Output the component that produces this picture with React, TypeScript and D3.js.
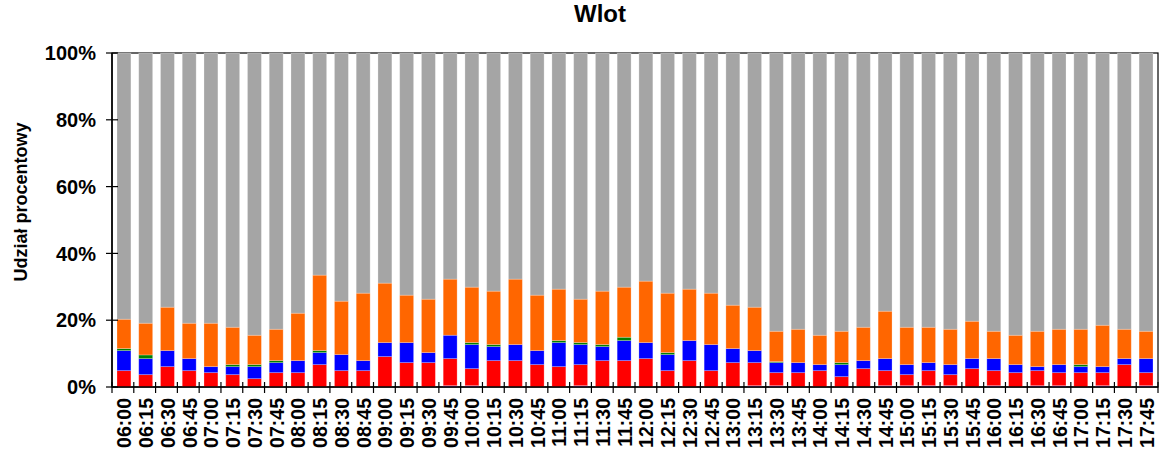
import React from 'react';
import * as d3 from 'd3';

const times = [
    '06:00', '06:15', '06:30', '06:45', '07:00', '07:15', '07:30', '07:45',
    '08:00', '08:15', '08:30', '08:45', '09:00', '09:15', '09:30', '09:45',
    '10:00', '10:15', '10:30', '10:45', '11:00', '11:15', '11:30', '11:45',
    '12:00', '12:15', '12:30', '12:45', '13:00', '13:15', '13:30', '13:45',
    '14:00', '14:15', '14:30', '14:45', '15:00', '15:15', '15:30', '15:45',
    '16:00', '16:15', '16:30', '16:45', '17:00', '17:15', '17:30', '17:45',
];

// shares in % per 15-minute interval, bottom to top
const purple = [
    0, 0, 0, 0, 0, 0, 0, 0, 0, 0, 0, 0, 0, 0, 0, 0.4,
    0.4, 0, 0, 0, 0, 0.4, 0, 0, 0, 0, 0, 0, 0, 0.4, 0.4, 0,
    0, 0, 0, 0.4, 0.4, 0.4, 0.4, 0, 0.4, 0, 0.4, 0.4, 0, 0.4, 0, 0.4,
];
const red = [
    4.9, 3.7, 6.1, 4.9, 4.3, 3.7, 2.5, 4.3, 4.3, 6.7, 4.9, 4.9, 9.1, 7.3, 7.3, 8.1,
    5.1, 7.9, 7.9, 6.7, 6.1, 6.3, 7.9, 7.9, 8.5, 4.9, 7.9, 4.9, 7.3, 6.9, 3.9, 4.3,
    4.9, 3.1, 5.5, 4.5, 3.3, 4.5, 3.3, 5.5, 4.5, 4.3, 4.5, 3.9, 4.3, 3.9, 6.7, 3.9,
];
const blue = [
    6.0, 4.8, 4.8, 3.6, 1.8, 2.4, 3.6, 3.0, 3.6, 3.6, 4.8, 3.0, 4.2, 6.0, 3.0, 7.0,
    7.2, 4.2, 4.8, 4.2, 7.2, 6.0, 4.2, 6.0, 4.8, 4.8, 6.0, 7.8, 4.2, 3.6, 3.0, 3.0,
    1.8, 3.6, 2.4, 3.6, 3.0, 2.4, 3.0, 3.0, 3.6, 2.4, 1.2, 2.4, 1.8, 1.8, 1.8, 4.2,
];
const green = [
    0.6, 1.1, 0, 0, 0, 0.6, 0.6, 0.6, 0, 0.6, 0, 0, 0, 0, 0, 0,
    0.6, 0.6, 0, 0, 0.6, 0.6, 0.6, 1.0, 0, 0.6, 0, 0, 0, 0, 0.3, 0,
    0, 0.6, 0, 0, 0, 0, 0, 0, 0, 0, 0, 0, 0.6, 0, 0, 0,
];
const orange = [
    8.8, 9.5, 13.0, 10.6, 13.0, 11.2, 8.8, 9.4, 14.2, 22.6, 16.0, 20.2, 17.8, 14.2, 16.0, 16.8,
    16.6, 16.0, 19.6, 16.6, 15.4, 13.0, 16.0, 15.0, 18.4, 17.8, 15.4, 15.4, 13.0, 13.0, 9.1, 10.0,
    8.8, 9.4, 10.0, 14.2, 11.2, 10.6, 10.6, 11.2, 8.2, 8.8, 10.6, 10.6, 10.6, 12.4, 8.8, 8.2,
];
const gray = [
    79.7, 80.9, 76.1, 80.9, 80.9, 82.1, 84.5, 82.7, 77.9, 66.5, 74.3, 71.9, 68.9, 72.5, 73.7, 67.7,
    70.1, 71.3, 67.7, 72.5, 70.7, 73.7, 71.3, 70.1, 68.3, 71.9, 70.7, 71.9, 75.5, 76.1, 83.3, 82.7,
    84.5, 83.3, 82.1, 77.3, 82.1, 82.1, 82.7, 80.3, 83.3, 84.5, 83.3, 82.7, 82.7, 81.5, 82.7, 83.3,
];
const yTicks = [0, 0.2, 0.4, 0.6, 0.8, 1];

const seriesKeys = ['purple', 'red', 'blue', 'green', 'orange', 'gray'];
const colors: Record<string, string> = {
    purple: '#9933cc',
    red: '#ff0000',
    blue: '#0000ff',
    green: '#008000',
    orange: '#ff6600',
    gray: '#a5a5a5',
};

const W = 1164;
const H = 457;
const margin = { top: 53, right: 6, bottom: 70, left: 112 };
const font = '"Liberation Sans", Arial, sans-serif';

const App: React.FC = () => {
    const rows = times.map((t, i) => ({
        time: t,
        purple: purple[i],
        red: red[i],
        blue: blue[i],
        green: green[i],
        orange: orange[i],
        gray: gray[i],
    }));

    const stacked = d3.stack<any>()
        .keys(seriesKeys)
        .offset(d3.stackOffsetExpand)(rows);

    const x = d3.scaleBand<string>()
        .domain(times)
        .range([margin.left, W - margin.right])
        .paddingInner(0.36)
        .paddingOuter(0.23);

    const y = d3.scaleLinear().domain([0, 1]).range([H - margin.bottom, margin.top]);

    const x0 = margin.left;
    const x1 = W - margin.right;
    const y0 = H - margin.bottom;
    const y1 = margin.top;

    return (
        <svg width={W} height={H} style={{ position: 'absolute', left: 0, top: 0, background: '#fff' }}>
            <text x={600} y={22} textAnchor="middle" fontFamily={font} fontWeight="bold" fontSize={24}>
                Wlot
            </text>

            {/* plot frame */}
            <rect x={x0} y={y1} width={x1 - x0} height={y0 - y1} fill="none" stroke="#000" strokeWidth={1.2} />

            {stacked.map(layer => (
                <g key={layer.key} fill={colors[layer.key]}>
                    {layer.map((d, i) => {
                        const h = y(d[0]) - y(d[1]);
                        if (h <= 0) return null;
                        return (
                            <rect
                                key={i}
                                x={x(times[i])}
                                y={y(d[1])}
                                width={x.bandwidth()}
                                height={h}
                                stroke="rgba(255,255,255,0.3)"
                                strokeWidth={0.8}
                            />
                        );
                    })}
                </g>
            ))}

            {/* axes */}
            <line x1={x0} x2={x0} y1={y1} y2={y0} stroke="#000" strokeWidth={1.5} />
            <line x1={x0} x2={x1} y1={y0} y2={y0} stroke="#000" strokeWidth={1.5} />

            {yTicks.map(t => (
                <g key={t}>
                    <line x1={x0 - 6} x2={x0 + 6} y1={y(t)} y2={y(t)} stroke="#000" strokeWidth={1.2} />
                    <text
                        x={96}
                        y={y(t)}
                        dy="0.36em"
                        textAnchor="end"
                        fontFamily={font}
                        fontWeight="bold"
                        fontSize={20}
                    >
                        {d3.format('.0%')(t)}
                    </text>
                </g>
            ))}

            {d3.range(times.length + 1).map(i => {
                const xp = x0 + i * ((x1 - x0) / times.length);
                return <line key={i} x1={xp} x2={xp} y1={y0 - 5} y2={y0 + 6} stroke="#000" strokeWidth={1.2} />;
            })}

            {times.map(t => {
                const cx = (x(t) as number) + x.bandwidth() / 2;
                return (
                    <text
                        key={t}
                        transform={`translate(${cx + 7.5},${y0 + 11}) rotate(-90)`}
                        textAnchor="end"
                        fontFamily={font}
                        fontWeight="bold"
                        fontSize={19.5}
                    >
                        {t}
                    </text>
                );
            })}

            <text
                transform={`translate(27,${(y0 + y1) / 2 - 18}) rotate(-90)`}
                textAnchor="middle"
                fontFamily={font}
                fontWeight="bold"
                fontSize={18}
            >
                Udział procentowy
            </text>
        </svg>
    );
};

export default App;
